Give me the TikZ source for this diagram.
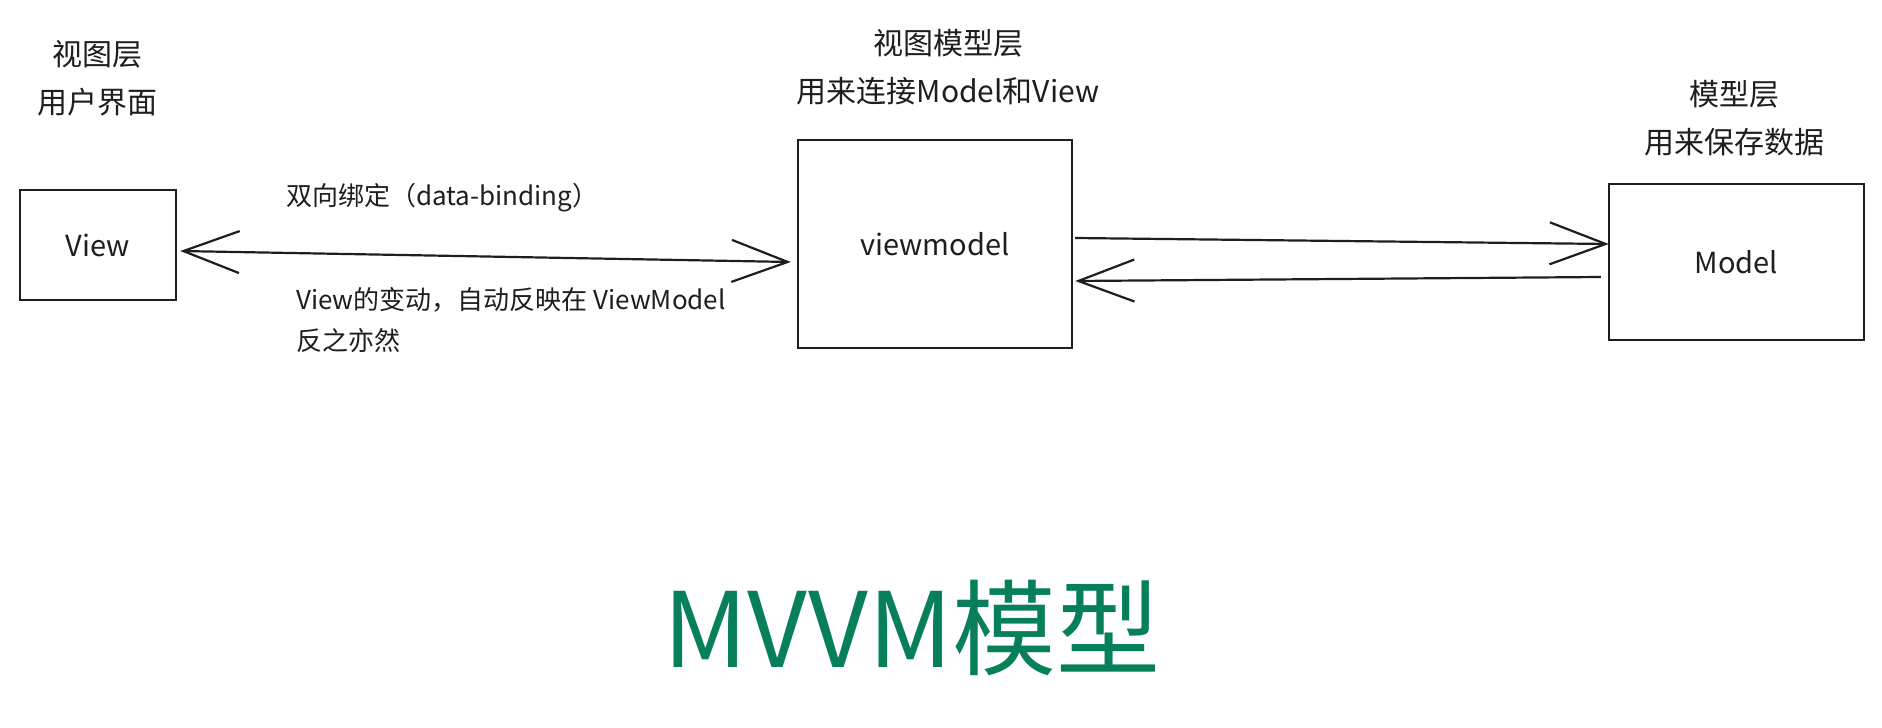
\documentclass[tikz,border=0pt]{standalone}
\usepackage{fontspec}
\setmainfont{Noto Sans CJK SC}
\usetikzlibrary{arrows.meta,calc}
\definecolor{ink}{HTML}{1E1E1E}
\definecolor{titlegreen}{HTML}{087F5B}
\tikzset{
  sketchbox/.style={draw=ink, line width=2.4pt, inner sep=0pt, font=\fontsize{29}{30}\selectfont, text=ink},
  toplabel/.style={align=center, font=\fontsize{30}{48}\selectfont, text=ink, inner sep=0pt},
  armlabel/.style={align=left, anchor=west, font=\fontsize{26}{41}\selectfont, text=ink, inner sep=0pt},
  barb/.tip={Straight Barb[length=56pt,width=42pt,line width=2.2pt]},
  arr/.style={draw=ink, line width=2.2pt, -barb},
  darr/.style={draw=ink, line width=2.2pt, barb-barb},
}
\begin{document}
\begin{tikzpicture}[x=1pt,y=-1pt]
\useasboundingbox (0,0) rectangle (1882,728);
\fill[white] (0,0) rectangle (1882,728);
% boxes
\node[sketchbox, minimum width=156pt, minimum height=110pt] (view) at (98,245) {View};
\node[sketchbox, minimum width=274pt, minimum height=208pt] (vm) at (935,244) {viewmodel};
\node[sketchbox, minimum width=255pt, minimum height=156pt] (model) at (1736.5,262) {Model};
% top labels
\node[toplabel] (lview) at (97,78) {视图层\\用户界面};
\node[toplabel] (lvm) at (948,67) {视图模型层\\用来连接Model和View};
\node[toplabel] (lmodel) at (1734,118) {模型层\\用来保存数据};
% arrow labels
\node[armlabel] (bind) at (286,198) {双向绑定（data-binding）};
\node[armlabel] (react) at (296,320) {View的变动，自动反映在 ViewModel\\反之亦然};
% connectors
\draw[darr] ($(view.east)+(3,6)$) -- ($(vm.west)+(-6,18)$);
\draw[arr] ($(vm.east)+(2,-6)$) -- ($(model.west)+(1,-18)$);
\draw[arr] ($(model.west)+(-7,15)$) -- ($(vm.east)+(2,37)$);
% title
\node[font=\fontsize{104}{110}\selectfont, text=titlegreen, inner sep=0pt] (title) at (912,628) {MVVM模型};
\end{tikzpicture}
\end{document}
